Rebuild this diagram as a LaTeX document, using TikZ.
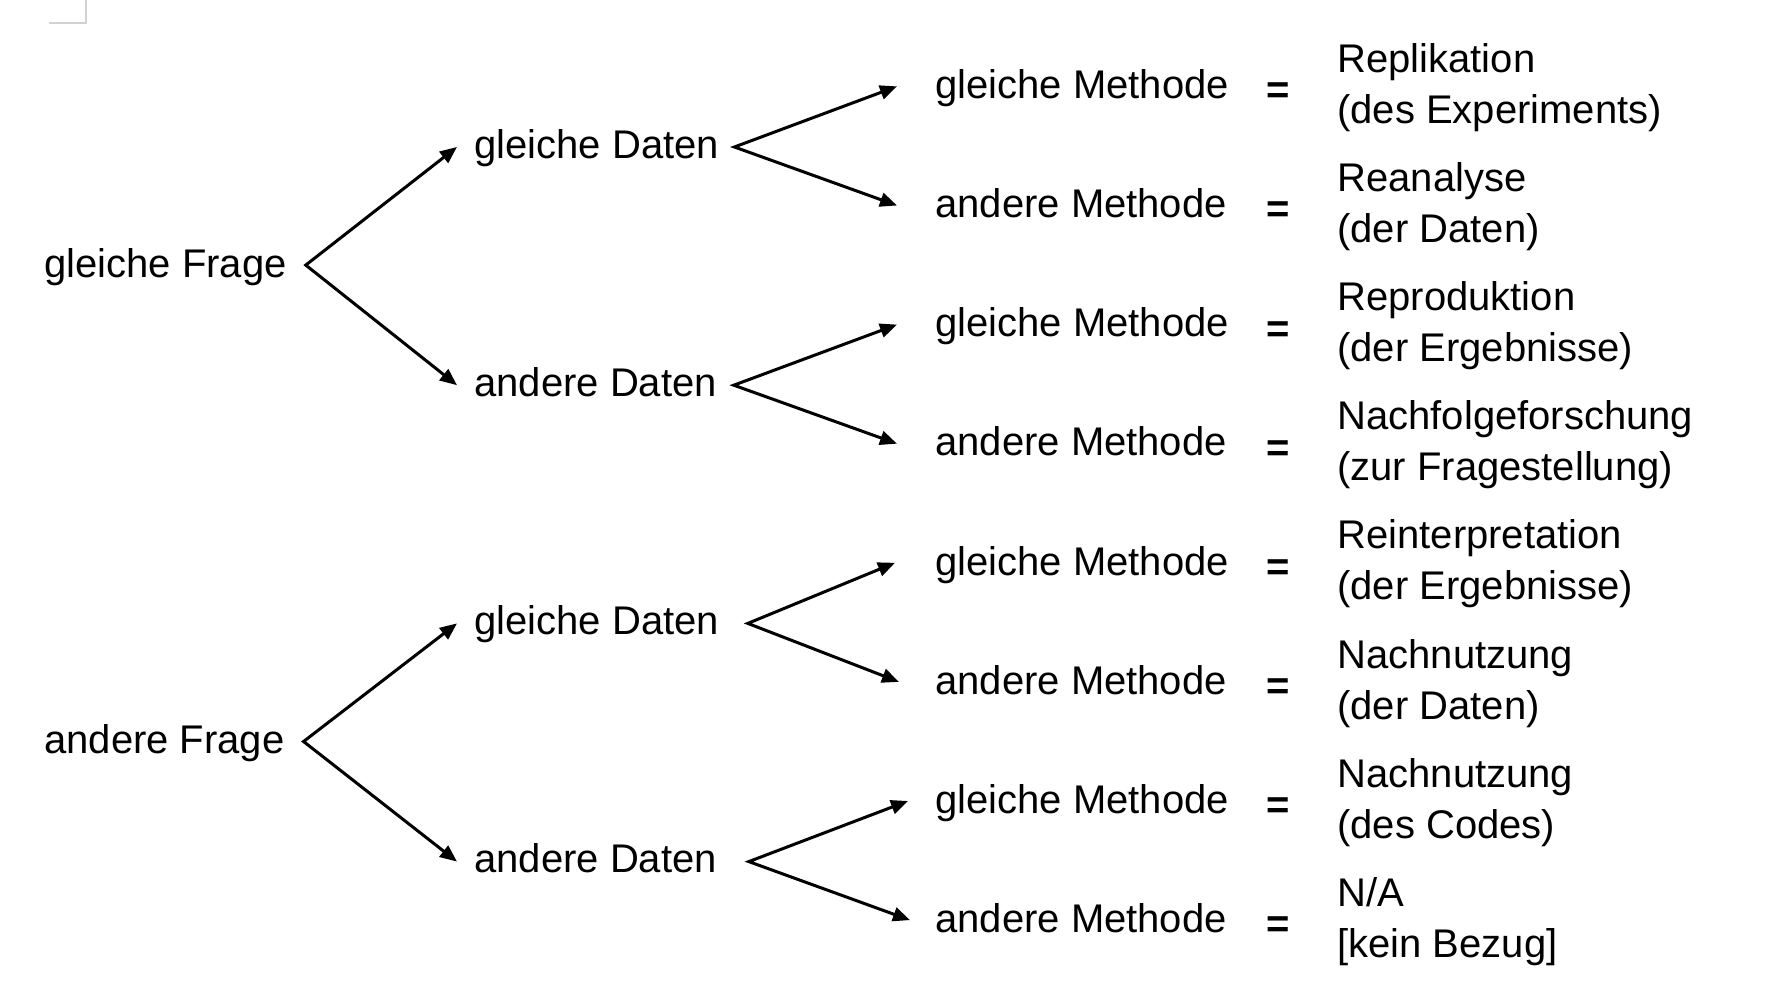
\documentclass[tikz,border=0pt]{standalone}
\usepackage{fontspec}
\setmainfont{Liberation Sans}
\usetikzlibrary{arrows.meta}
\tikzset{
  lbl/.style={anchor=base west, inner sep=0pt, text height=14.5pt, text depth=4.2pt, yshift=-1pt, font=\fontsize{20pt}{24pt}\selectfont},
  res/.style={anchor=west, inner sep=0pt, align=left, font=\fontsize{20pt}{25.5pt}\selectfont},
  gleich/.style={anchor=base west, inner sep=0pt, yshift=-3.6pt, font=\fontsize{20pt}{24pt}\selectfont\bfseries},
  pfeil/.style={{Triangle[length=8.5pt,width=7pt]}-{Triangle[length=8.5pt,width=7pt]}, line width=1.5pt, line join=miter}
}
\begin{document}
\begin{tikzpicture}[x=0.5pt,y=-0.5pt]
\useasboundingbox (0,0) rectangle (1768,1005);
\draw[gray!35, line width=0.8pt] (49,23) -- (86,23) -- (86,0);
\node[lbl] (f1) at (44,275.4){gleiche Frage};
\node[lbl] (f2) at (44,751.8){andere Frage};
\node[lbl] (d1) at (474,156.3){gleiche Daten};
\node[lbl] (d2) at (474,394.5){andere Daten};
\node[lbl] (d3) at (474,632.7){gleiche Daten};
\node[lbl] (d4) at (474,870.9){andere Daten};
\node[lbl] (m1) at (935,96.7){gleiche Methode};
\node[lbl] (m2) at (935,215.8){andere Methode};
\node[lbl] (m3) at (935,334.9){gleiche Methode};
\node[lbl] (m4) at (935,454.0){andere Methode};
\node[lbl] (m5) at (935,573.1){gleiche Methode};
\node[lbl] (m6) at (935,692.2){andere Methode};
\node[lbl] (m7) at (935,811.3){gleiche Methode};
\node[lbl] (m8) at (935,930.4){andere Methode};
\node[gleich] (e1) at (1266,96.7){=};
\node[gleich] (e2) at (1266,215.8){=};
\node[gleich] (e3) at (1266,334.9){=};
\node[gleich] (e4) at (1266,454.0){=};
\node[gleich] (e5) at (1266,573.1){=};
\node[gleich] (e6) at (1266,692.2){=};
\node[gleich] (e7) at (1266,811.3){=};
\node[gleich] (e8) at (1266,930.4){=};
\node[res] (r1) at (1337,87.7){Replikation\\(des Experiments)};
\node[res] (r2) at (1337,206.8){Reanalyse\\(der Daten)};
\node[res] (r3) at (1337,325.9){Reproduktion\\(der Ergebnisse)};
\node[res] (r4) at (1337,445.0){Nachfolgeforschung\\(zur Fragestellung)};
\node[res] (r5) at (1337,564.1){Reinterpretation\\(der Ergebnisse)};
\node[res] (r6) at (1337,683.2){Nachnutzung\\(der Daten)};
\node[res] (r7) at (1337,802.3){Nachnutzung\\(des Codes)};
\node[res] (r8) at (1337,921.4){N/A\\{[kein Bezug]}};
\draw[pfeil] ([xshift=-8.5pt,yshift=0.5pt]d1.west) -- ([xshift=9.3pt,yshift=1pt]f1.east) -- ([xshift=-8.5pt,yshift=0.5pt]d2.west);
\draw[pfeil] ([xshift=-8.5pt,yshift=0.5pt]d3.west) -- ([xshift=9.3pt,yshift=1pt]f2.east) -- ([xshift=-8.5pt,yshift=0.5pt]d4.west);
\draw[pfeil] ([xshift=-19pt,yshift=1pt]m1.west) -- ([xshift=7.5pt,yshift=0.5pt]d1.east) -- ([xshift=-19pt,yshift=1pt]m2.west);
\draw[pfeil] ([xshift=-19pt,yshift=1pt]m3.west) -- ([xshift=8.3pt,yshift=0.5pt]d2.east) -- ([xshift=-19pt,yshift=1pt]m4.west);
\draw[pfeil] ([xshift=-20pt,yshift=1pt]m5.west) -- ([xshift=14.2pt,yshift=0.5pt]d3.east) -- ([xshift=-18pt,yshift=1pt]m6.west);
\draw[pfeil] ([xshift=-13.5pt,yshift=1pt]m7.west) -- ([xshift=15.8pt,yshift=0.5pt]d4.east) -- ([xshift=-12.5pt,yshift=1pt]m8.west);
\end{tikzpicture}
\end{document}
